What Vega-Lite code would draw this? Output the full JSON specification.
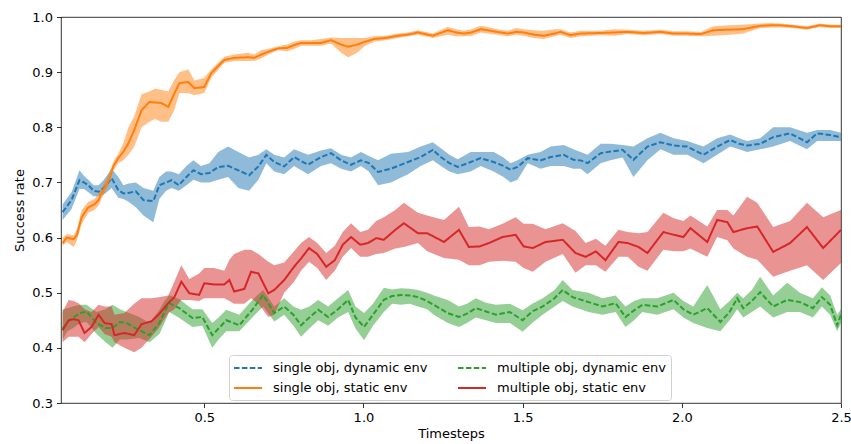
{
  "$schema": "https://vega.github.io/schema/vega-lite/v6.json",
  "width": 780,
  "height": 386,
  "autosize": {"type": "none"},
  "padding": {"left": 61, "top": 17, "right": 10, "bottom": 41},
  "config": {
    "font": "DejaVu Sans",
    "view": {"stroke": "#000", "strokeWidth": 0.8},
    "axis": {"labelFont": "DejaVu Sans", "labelFontSize": 13, "labelColor": "#000", "titleFont": "DejaVu Sans", "titleFontSize": 13, "titleFontWeight": "normal", "titleColor": "#000", "tickColor": "#000", "tickWidth": 0.8, "tickSize": 4.5, "labelPadding": 4, "domain": false, "grid": false},
    "legend": {"orient": "none", "legendX": 168, "legendY": 338, "columns": 2, "symbolType": "M-2,0H2", "symbolSize": 196, "symbolStrokeWidth": 2, "symbolOffset": 6, "labelOffset": 17, "labelFontSize": 13, "labelFont": "DejaVu Sans", "labelColor": "#000", "labelLimit": 400, "fillColor": "#fff", "strokeColor": "#d0d0d0", "padding": 5, "cornerRadius": 3, "rowPadding": 5, "columnPadding": 26}
  },
  "data": {"values": [
    {"s": "single obj, dynamic env", "t": 0.055, "m": 0.646, "lo": 0.632, "hi": 0.66},
    {"s": "single obj, dynamic env", "t": 0.083, "m": 0.668, "lo": 0.652, "hi": 0.682},
    {"s": "single obj, dynamic env", "t": 0.108, "m": 0.704, "lo": 0.688, "hi": 0.722},
    {"s": "single obj, dynamic env", "t": 0.122, "m": 0.7, "lo": 0.688, "hi": 0.712},
    {"s": "single obj, dynamic env", "t": 0.136, "m": 0.695, "lo": 0.682, "hi": 0.705},
    {"s": "single obj, dynamic env", "t": 0.152, "m": 0.685, "lo": 0.675, "hi": 0.695},
    {"s": "single obj, dynamic env", "t": 0.168, "m": 0.683, "lo": 0.675, "hi": 0.695},
    {"s": "single obj, dynamic env", "t": 0.185, "m": 0.69, "lo": 0.678, "hi": 0.705},
    {"s": "single obj, dynamic env", "t": 0.209, "m": 0.708, "lo": 0.69, "hi": 0.725},
    {"s": "single obj, dynamic env", "t": 0.23, "m": 0.686, "lo": 0.672, "hi": 0.71},
    {"s": "single obj, dynamic env", "t": 0.246, "m": 0.68, "lo": 0.67, "hi": 0.695},
    {"s": "single obj, dynamic env", "t": 0.262, "m": 0.681, "lo": 0.665, "hi": 0.698},
    {"s": "single obj, dynamic env", "t": 0.285, "m": 0.684, "lo": 0.655, "hi": 0.7},
    {"s": "single obj, dynamic env", "t": 0.309, "m": 0.668, "lo": 0.64, "hi": 0.69},
    {"s": "single obj, dynamic env", "t": 0.34, "m": 0.666, "lo": 0.628, "hi": 0.685},
    {"s": "single obj, dynamic env", "t": 0.359, "m": 0.695, "lo": 0.67, "hi": 0.71},
    {"s": "single obj, dynamic env", "t": 0.38, "m": 0.7, "lo": 0.685, "hi": 0.72},
    {"s": "single obj, dynamic env", "t": 0.397, "m": 0.704, "lo": 0.69, "hi": 0.72},
    {"s": "single obj, dynamic env", "t": 0.42, "m": 0.695, "lo": 0.685, "hi": 0.715},
    {"s": "single obj, dynamic env", "t": 0.444, "m": 0.71, "lo": 0.695, "hi": 0.73},
    {"s": "single obj, dynamic env", "t": 0.466, "m": 0.722, "lo": 0.705, "hi": 0.74},
    {"s": "single obj, dynamic env", "t": 0.49, "m": 0.715, "lo": 0.7, "hi": 0.73},
    {"s": "single obj, dynamic env", "t": 0.516, "m": 0.717, "lo": 0.7, "hi": 0.735},
    {"s": "single obj, dynamic env", "t": 0.544, "m": 0.728, "lo": 0.705, "hi": 0.755},
    {"s": "single obj, dynamic env", "t": 0.575, "m": 0.73, "lo": 0.71, "hi": 0.765},
    {"s": "single obj, dynamic env", "t": 0.607, "m": 0.722, "lo": 0.69, "hi": 0.755},
    {"s": "single obj, dynamic env", "t": 0.641, "m": 0.713, "lo": 0.685, "hi": 0.745},
    {"s": "single obj, dynamic env", "t": 0.67, "m": 0.729, "lo": 0.705, "hi": 0.75},
    {"s": "single obj, dynamic env", "t": 0.695, "m": 0.75, "lo": 0.735, "hi": 0.76},
    {"s": "single obj, dynamic env", "t": 0.72, "m": 0.737, "lo": 0.72, "hi": 0.75},
    {"s": "single obj, dynamic env", "t": 0.751, "m": 0.729, "lo": 0.715, "hi": 0.745},
    {"s": "single obj, dynamic env", "t": 0.782, "m": 0.746, "lo": 0.73, "hi": 0.76},
    {"s": "single obj, dynamic env", "t": 0.826, "m": 0.732, "lo": 0.715, "hi": 0.75},
    {"s": "single obj, dynamic env", "t": 0.867, "m": 0.746, "lo": 0.73, "hi": 0.758},
    {"s": "single obj, dynamic env", "t": 0.898, "m": 0.753, "lo": 0.735, "hi": 0.762},
    {"s": "single obj, dynamic env", "t": 0.93, "m": 0.74, "lo": 0.725, "hi": 0.75},
    {"s": "single obj, dynamic env", "t": 0.961, "m": 0.732, "lo": 0.72, "hi": 0.745},
    {"s": "single obj, dynamic env", "t": 0.992, "m": 0.74, "lo": 0.73, "hi": 0.755},
    {"s": "single obj, dynamic env", "t": 1.017, "m": 0.735, "lo": 0.72, "hi": 0.748},
    {"s": "single obj, dynamic env", "t": 1.046, "m": 0.719, "lo": 0.695, "hi": 0.74},
    {"s": "single obj, dynamic env", "t": 1.086, "m": 0.725, "lo": 0.7, "hi": 0.752},
    {"s": "single obj, dynamic env", "t": 1.14, "m": 0.737, "lo": 0.715, "hi": 0.755},
    {"s": "single obj, dynamic env", "t": 1.18, "m": 0.746, "lo": 0.73, "hi": 0.765},
    {"s": "single obj, dynamic env", "t": 1.218, "m": 0.759, "lo": 0.74, "hi": 0.773},
    {"s": "single obj, dynamic env", "t": 1.243, "m": 0.746, "lo": 0.73, "hi": 0.762},
    {"s": "single obj, dynamic env", "t": 1.27, "m": 0.735, "lo": 0.72, "hi": 0.75},
    {"s": "single obj, dynamic env", "t": 1.296, "m": 0.728, "lo": 0.715, "hi": 0.742},
    {"s": "single obj, dynamic env", "t": 1.337, "m": 0.737, "lo": 0.72, "hi": 0.755},
    {"s": "single obj, dynamic env", "t": 1.368, "m": 0.744, "lo": 0.73, "hi": 0.755},
    {"s": "single obj, dynamic env", "t": 1.409, "m": 0.737, "lo": 0.72, "hi": 0.755},
    {"s": "single obj, dynamic env", "t": 1.44, "m": 0.73, "lo": 0.71, "hi": 0.745},
    {"s": "single obj, dynamic env", "t": 1.462, "m": 0.723, "lo": 0.7, "hi": 0.735},
    {"s": "single obj, dynamic env", "t": 1.484, "m": 0.728, "lo": 0.705, "hi": 0.74},
    {"s": "single obj, dynamic env", "t": 1.516, "m": 0.744, "lo": 0.735, "hi": 0.75},
    {"s": "single obj, dynamic env", "t": 1.556, "m": 0.74, "lo": 0.725, "hi": 0.755},
    {"s": "single obj, dynamic env", "t": 1.588, "m": 0.746, "lo": 0.73, "hi": 0.765},
    {"s": "single obj, dynamic env", "t": 1.629, "m": 0.75, "lo": 0.73, "hi": 0.768},
    {"s": "single obj, dynamic env", "t": 1.66, "m": 0.741, "lo": 0.725, "hi": 0.76},
    {"s": "single obj, dynamic env", "t": 1.682, "m": 0.74, "lo": 0.725, "hi": 0.755},
    {"s": "single obj, dynamic env", "t": 1.704, "m": 0.735, "lo": 0.715, "hi": 0.75},
    {"s": "single obj, dynamic env", "t": 1.745, "m": 0.753, "lo": 0.735, "hi": 0.77},
    {"s": "single obj, dynamic env", "t": 1.776, "m": 0.756, "lo": 0.74, "hi": 0.77},
    {"s": "single obj, dynamic env", "t": 1.814, "m": 0.759, "lo": 0.745, "hi": 0.768},
    {"s": "single obj, dynamic env", "t": 1.848, "m": 0.741, "lo": 0.71, "hi": 0.765},
    {"s": "single obj, dynamic env", "t": 1.892, "m": 0.765, "lo": 0.74, "hi": 0.78},
    {"s": "single obj, dynamic env", "t": 1.933, "m": 0.773, "lo": 0.76, "hi": 0.79},
    {"s": "single obj, dynamic env", "t": 1.974, "m": 0.767, "lo": 0.75, "hi": 0.78},
    {"s": "single obj, dynamic env", "t": 2.017, "m": 0.765, "lo": 0.75, "hi": 0.775},
    {"s": "single obj, dynamic env", "t": 2.068, "m": 0.75, "lo": 0.735, "hi": 0.765},
    {"s": "single obj, dynamic env", "t": 2.111, "m": 0.765, "lo": 0.75, "hi": 0.78},
    {"s": "single obj, dynamic env", "t": 2.152, "m": 0.777, "lo": 0.765, "hi": 0.787},
    {"s": "single obj, dynamic env", "t": 2.18, "m": 0.77, "lo": 0.76, "hi": 0.78},
    {"s": "single obj, dynamic env", "t": 2.205, "m": 0.767, "lo": 0.755, "hi": 0.775},
    {"s": "single obj, dynamic env", "t": 2.246, "m": 0.77, "lo": 0.76, "hi": 0.78},
    {"s": "single obj, dynamic env", "t": 2.287, "m": 0.782, "lo": 0.765, "hi": 0.8},
    {"s": "single obj, dynamic env", "t": 2.34, "m": 0.789, "lo": 0.775, "hi": 0.8},
    {"s": "single obj, dynamic env", "t": 2.393, "m": 0.773, "lo": 0.76, "hi": 0.79},
    {"s": "single obj, dynamic env", "t": 2.425, "m": 0.789, "lo": 0.775, "hi": 0.795},
    {"s": "single obj, dynamic env", "t": 2.466, "m": 0.786, "lo": 0.775, "hi": 0.795},
    {"s": "single obj, dynamic env", "t": 2.5, "m": 0.782, "lo": 0.775, "hi": 0.79},

    {"s": "single obj, static env", "t": 0.055, "m": 0.59, "lo": 0.585, "hi": 0.6},
    {"s": "single obj, static env", "t": 0.068, "m": 0.6, "lo": 0.592, "hi": 0.606},
    {"s": "single obj, static env", "t": 0.09, "m": 0.597, "lo": 0.583, "hi": 0.604},
    {"s": "single obj, static env", "t": 0.1, "m": 0.605, "lo": 0.595, "hi": 0.615},
    {"s": "single obj, static env", "t": 0.115, "m": 0.637, "lo": 0.625, "hi": 0.65},
    {"s": "single obj, static env", "t": 0.136, "m": 0.655, "lo": 0.645, "hi": 0.665},
    {"s": "single obj, static env", "t": 0.155, "m": 0.66, "lo": 0.65, "hi": 0.67},
    {"s": "single obj, static env", "t": 0.168, "m": 0.668, "lo": 0.658, "hi": 0.68},
    {"s": "single obj, static env", "t": 0.177, "m": 0.68, "lo": 0.67, "hi": 0.69},
    {"s": "single obj, static env", "t": 0.2, "m": 0.704, "lo": 0.695, "hi": 0.715},
    {"s": "single obj, static env", "t": 0.215, "m": 0.73, "lo": 0.722, "hi": 0.738},
    {"s": "single obj, static env", "t": 0.23, "m": 0.744, "lo": 0.735, "hi": 0.752},
    {"s": "single obj, static env", "t": 0.245, "m": 0.755, "lo": 0.74, "hi": 0.77},
    {"s": "single obj, static env", "t": 0.262, "m": 0.771, "lo": 0.75, "hi": 0.8},
    {"s": "single obj, static env", "t": 0.28, "m": 0.795, "lo": 0.765, "hi": 0.82},
    {"s": "single obj, static env", "t": 0.303, "m": 0.831, "lo": 0.8, "hi": 0.86},
    {"s": "single obj, static env", "t": 0.328, "m": 0.846, "lo": 0.81, "hi": 0.865},
    {"s": "single obj, static env", "t": 0.345, "m": 0.845, "lo": 0.815, "hi": 0.87},
    {"s": "single obj, static env", "t": 0.365, "m": 0.844, "lo": 0.81, "hi": 0.868},
    {"s": "single obj, static env", "t": 0.387, "m": 0.837, "lo": 0.81, "hi": 0.865},
    {"s": "single obj, static env", "t": 0.405, "m": 0.86, "lo": 0.83, "hi": 0.885},
    {"s": "single obj, static env", "t": 0.422, "m": 0.88, "lo": 0.862, "hi": 0.9},
    {"s": "single obj, static env", "t": 0.45, "m": 0.882, "lo": 0.862, "hi": 0.905},
    {"s": "single obj, static env", "t": 0.469, "m": 0.871, "lo": 0.858, "hi": 0.885},
    {"s": "single obj, static env", "t": 0.5, "m": 0.873, "lo": 0.862, "hi": 0.89},
    {"s": "single obj, static env", "t": 0.522, "m": 0.898, "lo": 0.89, "hi": 0.905},
    {"s": "single obj, static env", "t": 0.545, "m": 0.912, "lo": 0.905, "hi": 0.918},
    {"s": "single obj, static env", "t": 0.563, "m": 0.922, "lo": 0.917, "hi": 0.928},
    {"s": "single obj, static env", "t": 0.594, "m": 0.926, "lo": 0.92, "hi": 0.932},
    {"s": "single obj, static env", "t": 0.638, "m": 0.927, "lo": 0.92, "hi": 0.935},
    {"s": "single obj, static env", "t": 0.657, "m": 0.926, "lo": 0.92, "hi": 0.932},
    {"s": "single obj, static env", "t": 0.68, "m": 0.932, "lo": 0.925, "hi": 0.94},
    {"s": "single obj, static env", "t": 0.701, "m": 0.937, "lo": 0.932, "hi": 0.942},
    {"s": "single obj, static env", "t": 0.732, "m": 0.943, "lo": 0.94, "hi": 0.947},
    {"s": "single obj, static env", "t": 0.76, "m": 0.944, "lo": 0.938, "hi": 0.95},
    {"s": "single obj, static env", "t": 0.782, "m": 0.949, "lo": 0.942, "hi": 0.955},
    {"s": "single obj, static env", "t": 0.804, "m": 0.953, "lo": 0.948, "hi": 0.958},
    {"s": "single obj, static env", "t": 0.835, "m": 0.953, "lo": 0.948, "hi": 0.958},
    {"s": "single obj, static env", "t": 0.867, "m": 0.953, "lo": 0.948, "hi": 0.96},
    {"s": "single obj, static env", "t": 0.898, "m": 0.958, "lo": 0.952, "hi": 0.963},
    {"s": "single obj, static env", "t": 0.93, "m": 0.95, "lo": 0.935, "hi": 0.962},
    {"s": "single obj, static env", "t": 0.952, "m": 0.946, "lo": 0.927, "hi": 0.962},
    {"s": "single obj, static env", "t": 0.98, "m": 0.95, "lo": 0.935, "hi": 0.962},
    {"s": "single obj, static env", "t": 1.005, "m": 0.955, "lo": 0.948, "hi": 0.962},
    {"s": "single obj, static env", "t": 1.033, "m": 0.96, "lo": 0.955, "hi": 0.965},
    {"s": "single obj, static env", "t": 1.07, "m": 0.962, "lo": 0.958, "hi": 0.966},
    {"s": "single obj, static env", "t": 1.108, "m": 0.966, "lo": 0.962, "hi": 0.97},
    {"s": "single obj, static env", "t": 1.14, "m": 0.968, "lo": 0.965, "hi": 0.972},
    {"s": "single obj, static env", "t": 1.171, "m": 0.972, "lo": 0.968, "hi": 0.976},
    {"s": "single obj, static env", "t": 1.218, "m": 0.966, "lo": 0.962, "hi": 0.97},
    {"s": "single obj, static env", "t": 1.265, "m": 0.976, "lo": 0.968, "hi": 0.982},
    {"s": "single obj, static env", "t": 1.29, "m": 0.972, "lo": 0.965, "hi": 0.978},
    {"s": "single obj, static env", "t": 1.315, "m": 0.97, "lo": 0.965, "hi": 0.975},
    {"s": "single obj, static env", "t": 1.34, "m": 0.972, "lo": 0.966, "hi": 0.978},
    {"s": "single obj, static env", "t": 1.368, "m": 0.978, "lo": 0.972, "hi": 0.984},
    {"s": "single obj, static env", "t": 1.39, "m": 0.976, "lo": 0.97, "hi": 0.982},
    {"s": "single obj, static env", "t": 1.42, "m": 0.973, "lo": 0.968, "hi": 0.978},
    {"s": "single obj, static env", "t": 1.453, "m": 0.97, "lo": 0.965, "hi": 0.975},
    {"s": "single obj, static env", "t": 1.48, "m": 0.973, "lo": 0.968, "hi": 0.98},
    {"s": "single obj, static env", "t": 1.503, "m": 0.972, "lo": 0.966, "hi": 0.978},
    {"s": "single obj, static env", "t": 1.535, "m": 0.968, "lo": 0.962, "hi": 0.976},
    {"s": "single obj, static env", "t": 1.566, "m": 0.966, "lo": 0.96, "hi": 0.975},
    {"s": "single obj, static env", "t": 1.6, "m": 0.97, "lo": 0.965, "hi": 0.978},
    {"s": "single obj, static env", "t": 1.619, "m": 0.973, "lo": 0.968, "hi": 0.978},
    {"s": "single obj, static env", "t": 1.65, "m": 0.967, "lo": 0.962, "hi": 0.972},
    {"s": "single obj, static env", "t": 1.682, "m": 0.97, "lo": 0.965, "hi": 0.975},
    {"s": "single obj, static env", "t": 1.745, "m": 0.971, "lo": 0.967, "hi": 0.975},
    {"s": "single obj, static env", "t": 1.79, "m": 0.972, "lo": 0.966, "hi": 0.978},
    {"s": "single obj, static env", "t": 1.829, "m": 0.973, "lo": 0.969, "hi": 0.977},
    {"s": "single obj, static env", "t": 1.88, "m": 0.971, "lo": 0.967, "hi": 0.975},
    {"s": "single obj, static env", "t": 1.933, "m": 0.973, "lo": 0.969, "hi": 0.977},
    {"s": "single obj, static env", "t": 1.975, "m": 0.97, "lo": 0.966, "hi": 0.974},
    {"s": "single obj, static env", "t": 2.017, "m": 0.97, "lo": 0.966, "hi": 0.974},
    {"s": "single obj, static env", "t": 2.06, "m": 0.969, "lo": 0.965, "hi": 0.973},
    {"s": "single obj, static env", "t": 2.099, "m": 0.976, "lo": 0.966, "hi": 0.983},
    {"s": "single obj, static env", "t": 2.15, "m": 0.977, "lo": 0.968, "hi": 0.985},
    {"s": "single obj, static env", "t": 2.193, "m": 0.978, "lo": 0.97, "hi": 0.986},
    {"s": "single obj, static env", "t": 2.246, "m": 0.984, "lo": 0.98, "hi": 0.988},
    {"s": "single obj, static env", "t": 2.28, "m": 0.985, "lo": 0.981, "hi": 0.989},
    {"s": "single obj, static env", "t": 2.309, "m": 0.985, "lo": 0.981, "hi": 0.988},
    {"s": "single obj, static env", "t": 2.35, "m": 0.983, "lo": 0.98, "hi": 0.986},
    {"s": "single obj, static env", "t": 2.393, "m": 0.98, "lo": 0.977, "hi": 0.983},
    {"s": "single obj, static env", "t": 2.434, "m": 0.985, "lo": 0.982, "hi": 0.988},
    {"s": "single obj, static env", "t": 2.47, "m": 0.983, "lo": 0.98, "hi": 0.986},
    {"s": "single obj, static env", "t": 2.5, "m": 0.983, "lo": 0.98, "hi": 0.986},

    {"s": "multiple obj, dynamic env", "t": 0.055, "m": 0.435, "lo": 0.415, "hi": 0.47},
    {"s": "multiple obj, dynamic env", "t": 0.07, "m": 0.447, "lo": 0.43, "hi": 0.472},
    {"s": "multiple obj, dynamic env", "t": 0.086, "m": 0.454, "lo": 0.435, "hi": 0.475},
    {"s": "multiple obj, dynamic env", "t": 0.11, "m": 0.463, "lo": 0.445, "hi": 0.478},
    {"s": "multiple obj, dynamic env", "t": 0.13, "m": 0.466, "lo": 0.447, "hi": 0.478},
    {"s": "multiple obj, dynamic env", "t": 0.162, "m": 0.445, "lo": 0.425, "hi": 0.465},
    {"s": "multiple obj, dynamic env", "t": 0.19, "m": 0.436, "lo": 0.41, "hi": 0.47},
    {"s": "multiple obj, dynamic env", "t": 0.212, "m": 0.436, "lo": 0.4, "hi": 0.478},
    {"s": "multiple obj, dynamic env", "t": 0.235, "m": 0.447, "lo": 0.415, "hi": 0.47},
    {"s": "multiple obj, dynamic env", "t": 0.256, "m": 0.445, "lo": 0.415, "hi": 0.465},
    {"s": "multiple obj, dynamic env", "t": 0.296, "m": 0.432, "lo": 0.418, "hi": 0.456},
    {"s": "multiple obj, dynamic env", "t": 0.328, "m": 0.423, "lo": 0.41, "hi": 0.445},
    {"s": "multiple obj, dynamic env", "t": 0.359, "m": 0.445, "lo": 0.425, "hi": 0.469},
    {"s": "multiple obj, dynamic env", "t": 0.375, "m": 0.465, "lo": 0.445, "hi": 0.485},
    {"s": "multiple obj, dynamic env", "t": 0.39, "m": 0.481, "lo": 0.465, "hi": 0.496},
    {"s": "multiple obj, dynamic env", "t": 0.422, "m": 0.472, "lo": 0.454, "hi": 0.488},
    {"s": "multiple obj, dynamic env", "t": 0.463, "m": 0.454, "lo": 0.438, "hi": 0.47},
    {"s": "multiple obj, dynamic env", "t": 0.494, "m": 0.456, "lo": 0.44, "hi": 0.47},
    {"s": "multiple obj, dynamic env", "t": 0.525, "m": 0.423, "lo": 0.4, "hi": 0.445},
    {"s": "multiple obj, dynamic env", "t": 0.545, "m": 0.435, "lo": 0.415, "hi": 0.455},
    {"s": "multiple obj, dynamic env", "t": 0.569, "m": 0.45, "lo": 0.43, "hi": 0.469},
    {"s": "multiple obj, dynamic env", "t": 0.61, "m": 0.441, "lo": 0.43, "hi": 0.46},
    {"s": "multiple obj, dynamic env", "t": 0.651, "m": 0.469, "lo": 0.455, "hi": 0.487},
    {"s": "multiple obj, dynamic env", "t": 0.685, "m": 0.496, "lo": 0.475, "hi": 0.505},
    {"s": "multiple obj, dynamic env", "t": 0.72, "m": 0.463, "lo": 0.448, "hi": 0.475},
    {"s": "multiple obj, dynamic env", "t": 0.751, "m": 0.475, "lo": 0.46, "hi": 0.49},
    {"s": "multiple obj, dynamic env", "t": 0.78, "m": 0.46, "lo": 0.44, "hi": 0.475},
    {"s": "multiple obj, dynamic env", "t": 0.804, "m": 0.441, "lo": 0.42, "hi": 0.469},
    {"s": "multiple obj, dynamic env", "t": 0.83, "m": 0.455, "lo": 0.435, "hi": 0.475},
    {"s": "multiple obj, dynamic env", "t": 0.858, "m": 0.469, "lo": 0.45, "hi": 0.487},
    {"s": "multiple obj, dynamic env", "t": 0.889, "m": 0.456, "lo": 0.44, "hi": 0.475},
    {"s": "multiple obj, dynamic env", "t": 0.92, "m": 0.47, "lo": 0.455, "hi": 0.49},
    {"s": "multiple obj, dynamic env", "t": 0.952, "m": 0.487, "lo": 0.465, "hi": 0.505},
    {"s": "multiple obj, dynamic env", "t": 0.975, "m": 0.455, "lo": 0.435, "hi": 0.475},
    {"s": "multiple obj, dynamic env", "t": 1.002, "m": 0.438, "lo": 0.414, "hi": 0.463},
    {"s": "multiple obj, dynamic env", "t": 1.03, "m": 0.46, "lo": 0.44, "hi": 0.48},
    {"s": "multiple obj, dynamic env", "t": 1.064, "m": 0.487, "lo": 0.465, "hi": 0.509},
    {"s": "multiple obj, dynamic env", "t": 1.09, "m": 0.494, "lo": 0.48, "hi": 0.506},
    {"s": "multiple obj, dynamic env", "t": 1.118, "m": 0.496, "lo": 0.478, "hi": 0.508},
    {"s": "multiple obj, dynamic env", "t": 1.145, "m": 0.495, "lo": 0.48, "hi": 0.507},
    {"s": "multiple obj, dynamic env", "t": 1.171, "m": 0.492, "lo": 0.475, "hi": 0.505},
    {"s": "multiple obj, dynamic env", "t": 1.2, "m": 0.485, "lo": 0.47, "hi": 0.5},
    {"s": "multiple obj, dynamic env", "t": 1.221, "m": 0.478, "lo": 0.46, "hi": 0.495},
    {"s": "multiple obj, dynamic env", "t": 1.265, "m": 0.463, "lo": 0.445, "hi": 0.487},
    {"s": "multiple obj, dynamic env", "t": 1.3, "m": 0.456, "lo": 0.438, "hi": 0.475},
    {"s": "multiple obj, dynamic env", "t": 1.325, "m": 0.462, "lo": 0.445, "hi": 0.48},
    {"s": "multiple obj, dynamic env", "t": 1.353, "m": 0.472, "lo": 0.455, "hi": 0.49},
    {"s": "multiple obj, dynamic env", "t": 1.385, "m": 0.466, "lo": 0.45, "hi": 0.482},
    {"s": "multiple obj, dynamic env", "t": 1.416, "m": 0.46, "lo": 0.445, "hi": 0.478},
    {"s": "multiple obj, dynamic env", "t": 1.46, "m": 0.465, "lo": 0.445, "hi": 0.48},
    {"s": "multiple obj, dynamic env", "t": 1.5, "m": 0.45, "lo": 0.429, "hi": 0.468},
    {"s": "multiple obj, dynamic env", "t": 1.53, "m": 0.466, "lo": 0.445, "hi": 0.48},
    {"s": "multiple obj, dynamic env", "t": 1.563, "m": 0.475, "lo": 0.46, "hi": 0.49},
    {"s": "multiple obj, dynamic env", "t": 1.6, "m": 0.49, "lo": 0.475, "hi": 0.505},
    {"s": "multiple obj, dynamic env", "t": 1.626, "m": 0.505, "lo": 0.485, "hi": 0.523},
    {"s": "multiple obj, dynamic env", "t": 1.657, "m": 0.492, "lo": 0.475, "hi": 0.505},
    {"s": "multiple obj, dynamic env", "t": 1.707, "m": 0.483, "lo": 0.465, "hi": 0.5},
    {"s": "multiple obj, dynamic env", "t": 1.751, "m": 0.475, "lo": 0.46, "hi": 0.49},
    {"s": "multiple obj, dynamic env", "t": 1.792, "m": 0.481, "lo": 0.465, "hi": 0.495},
    {"s": "multiple obj, dynamic env", "t": 1.823, "m": 0.456, "lo": 0.438, "hi": 0.475},
    {"s": "multiple obj, dynamic env", "t": 1.85, "m": 0.468, "lo": 0.45, "hi": 0.485},
    {"s": "multiple obj, dynamic env", "t": 1.876, "m": 0.478, "lo": 0.465, "hi": 0.49},
    {"s": "multiple obj, dynamic env", "t": 1.923, "m": 0.475, "lo": 0.46, "hi": 0.49},
    {"s": "multiple obj, dynamic env", "t": 1.974, "m": 0.487, "lo": 0.47, "hi": 0.5},
    {"s": "multiple obj, dynamic env", "t": 2.005, "m": 0.47, "lo": 0.455, "hi": 0.485},
    {"s": "multiple obj, dynamic env", "t": 2.036, "m": 0.46, "lo": 0.445, "hi": 0.475},
    {"s": "multiple obj, dynamic env", "t": 2.08, "m": 0.472, "lo": 0.436, "hi": 0.514},
    {"s": "multiple obj, dynamic env", "t": 2.121, "m": 0.447, "lo": 0.43, "hi": 0.47},
    {"s": "multiple obj, dynamic env", "t": 2.15, "m": 0.465, "lo": 0.45, "hi": 0.485},
    {"s": "multiple obj, dynamic env", "t": 2.174, "m": 0.49, "lo": 0.47, "hi": 0.5},
    {"s": "multiple obj, dynamic env", "t": 2.193, "m": 0.472, "lo": 0.455, "hi": 0.49},
    {"s": "multiple obj, dynamic env", "t": 2.22, "m": 0.485, "lo": 0.465, "hi": 0.505},
    {"s": "multiple obj, dynamic env", "t": 2.246, "m": 0.501, "lo": 0.475, "hi": 0.529},
    {"s": "multiple obj, dynamic env", "t": 2.287, "m": 0.475, "lo": 0.455, "hi": 0.495},
    {"s": "multiple obj, dynamic env", "t": 2.331, "m": 0.487, "lo": 0.465, "hi": 0.518},
    {"s": "multiple obj, dynamic env", "t": 2.371, "m": 0.483, "lo": 0.465, "hi": 0.5},
    {"s": "multiple obj, dynamic env", "t": 2.412, "m": 0.472, "lo": 0.455, "hi": 0.49},
    {"s": "multiple obj, dynamic env", "t": 2.44, "m": 0.492, "lo": 0.475, "hi": 0.51},
    {"s": "multiple obj, dynamic env", "t": 2.466, "m": 0.478, "lo": 0.46, "hi": 0.495},
    {"s": "multiple obj, dynamic env", "t": 2.488, "m": 0.441, "lo": 0.43, "hi": 0.46},
    {"s": "multiple obj, dynamic env", "t": 2.5, "m": 0.46, "lo": 0.445, "hi": 0.47},

    {"s": "multiple obj, static env", "t": 0.055, "m": 0.432, "lo": 0.41, "hi": 0.465},
    {"s": "multiple obj, static env", "t": 0.074, "m": 0.45, "lo": 0.42, "hi": 0.487},
    {"s": "multiple obj, static env", "t": 0.09, "m": 0.452, "lo": 0.42, "hi": 0.485},
    {"s": "multiple obj, static env", "t": 0.105, "m": 0.45, "lo": 0.42, "hi": 0.481},
    {"s": "multiple obj, static env", "t": 0.124, "m": 0.427, "lo": 0.41, "hi": 0.47},
    {"s": "multiple obj, static env", "t": 0.146, "m": 0.438, "lo": 0.425, "hi": 0.465},
    {"s": "multiple obj, static env", "t": 0.168, "m": 0.46, "lo": 0.438, "hi": 0.478},
    {"s": "multiple obj, static env", "t": 0.187, "m": 0.445, "lo": 0.425, "hi": 0.475},
    {"s": "multiple obj, static env", "t": 0.209, "m": 0.443, "lo": 0.42, "hi": 0.475},
    {"s": "multiple obj, static env", "t": 0.218, "m": 0.423, "lo": 0.41, "hi": 0.46},
    {"s": "multiple obj, static env", "t": 0.249, "m": 0.427, "lo": 0.4, "hi": 0.463},
    {"s": "multiple obj, static env", "t": 0.28, "m": 0.423, "lo": 0.392, "hi": 0.48},
    {"s": "multiple obj, static env", "t": 0.303, "m": 0.443, "lo": 0.4, "hi": 0.49},
    {"s": "multiple obj, static env", "t": 0.334, "m": 0.448, "lo": 0.42, "hi": 0.49},
    {"s": "multiple obj, static env", "t": 0.356, "m": 0.46, "lo": 0.435, "hi": 0.492},
    {"s": "multiple obj, static env", "t": 0.387, "m": 0.481, "lo": 0.463, "hi": 0.495},
    {"s": "multiple obj, static env", "t": 0.406, "m": 0.492, "lo": 0.47, "hi": 0.52},
    {"s": "multiple obj, static env", "t": 0.428, "m": 0.52, "lo": 0.487, "hi": 0.55},
    {"s": "multiple obj, static env", "t": 0.453, "m": 0.499, "lo": 0.487, "hi": 0.525},
    {"s": "multiple obj, static env", "t": 0.484, "m": 0.496, "lo": 0.485, "hi": 0.535},
    {"s": "multiple obj, static env", "t": 0.5, "m": 0.517, "lo": 0.49, "hi": 0.545},
    {"s": "multiple obj, static env", "t": 0.531, "m": 0.515, "lo": 0.49, "hi": 0.545},
    {"s": "multiple obj, static env", "t": 0.563, "m": 0.515, "lo": 0.49, "hi": 0.54},
    {"s": "multiple obj, static env", "t": 0.579, "m": 0.523, "lo": 0.485, "hi": 0.56},
    {"s": "multiple obj, static env", "t": 0.594, "m": 0.502, "lo": 0.48, "hi": 0.57},
    {"s": "multiple obj, static env", "t": 0.626, "m": 0.507, "lo": 0.48, "hi": 0.578},
    {"s": "multiple obj, static env", "t": 0.647, "m": 0.538, "lo": 0.49, "hi": 0.578},
    {"s": "multiple obj, static env", "t": 0.67, "m": 0.535, "lo": 0.48, "hi": 0.57},
    {"s": "multiple obj, static env", "t": 0.701, "m": 0.499, "lo": 0.456, "hi": 0.556},
    {"s": "multiple obj, static env", "t": 0.72, "m": 0.505, "lo": 0.46, "hi": 0.55},
    {"s": "multiple obj, static env", "t": 0.751, "m": 0.523, "lo": 0.5, "hi": 0.555},
    {"s": "multiple obj, static env", "t": 0.782, "m": 0.547, "lo": 0.52, "hi": 0.575},
    {"s": "multiple obj, static env", "t": 0.804, "m": 0.562, "lo": 0.54, "hi": 0.59},
    {"s": "multiple obj, static env", "t": 0.829, "m": 0.581, "lo": 0.556, "hi": 0.601},
    {"s": "multiple obj, static env", "t": 0.855, "m": 0.57, "lo": 0.545, "hi": 0.59},
    {"s": "multiple obj, static env", "t": 0.883, "m": 0.547, "lo": 0.523, "hi": 0.572},
    {"s": "multiple obj, static env", "t": 0.91, "m": 0.559, "lo": 0.54, "hi": 0.585},
    {"s": "multiple obj, static env", "t": 0.935, "m": 0.587, "lo": 0.565, "hi": 0.61},
    {"s": "multiple obj, static env", "t": 0.961, "m": 0.601, "lo": 0.581, "hi": 0.626},
    {"s": "multiple obj, static env", "t": 0.99, "m": 0.587, "lo": 0.565, "hi": 0.61},
    {"s": "multiple obj, static env", "t": 1.014, "m": 0.59, "lo": 0.565, "hi": 0.614},
    {"s": "multiple obj, static env", "t": 1.04, "m": 0.599, "lo": 0.57, "hi": 0.63},
    {"s": "multiple obj, static env", "t": 1.064, "m": 0.596, "lo": 0.572, "hi": 0.637},
    {"s": "multiple obj, static env", "t": 1.1, "m": 0.614, "lo": 0.58, "hi": 0.65},
    {"s": "multiple obj, static env", "t": 1.127, "m": 0.626, "lo": 0.583, "hi": 0.663},
    {"s": "multiple obj, static env", "t": 1.171, "m": 0.608, "lo": 0.59, "hi": 0.645},
    {"s": "multiple obj, static env", "t": 1.2, "m": 0.608, "lo": 0.575, "hi": 0.64},
    {"s": "multiple obj, static env", "t": 1.253, "m": 0.592, "lo": 0.563, "hi": 0.632},
    {"s": "multiple obj, static env", "t": 1.3, "m": 0.614, "lo": 0.56, "hi": 0.656},
    {"s": "multiple obj, static env", "t": 1.331, "m": 0.583, "lo": 0.55, "hi": 0.619},
    {"s": "multiple obj, static env", "t": 1.365, "m": 0.584, "lo": 0.55, "hi": 0.62},
    {"s": "multiple obj, static env", "t": 1.394, "m": 0.59, "lo": 0.556, "hi": 0.615},
    {"s": "multiple obj, static env", "t": 1.437, "m": 0.601, "lo": 0.558, "hi": 0.625},
    {"s": "multiple obj, static env", "t": 1.478, "m": 0.605, "lo": 0.556, "hi": 0.637},
    {"s": "multiple obj, static env", "t": 1.503, "m": 0.584, "lo": 0.545, "hi": 0.625},
    {"s": "multiple obj, static env", "t": 1.532, "m": 0.581, "lo": 0.538, "hi": 0.625},
    {"s": "multiple obj, static env", "t": 1.572, "m": 0.592, "lo": 0.556, "hi": 0.615},
    {"s": "multiple obj, static env", "t": 1.626, "m": 0.596, "lo": 0.57, "hi": 0.626},
    {"s": "multiple obj, static env", "t": 1.666, "m": 0.572, "lo": 0.536, "hi": 0.612},
    {"s": "multiple obj, static env", "t": 1.698, "m": 0.565, "lo": 0.55, "hi": 0.59},
    {"s": "multiple obj, static env", "t": 1.73, "m": 0.575, "lo": 0.55, "hi": 0.598},
    {"s": "multiple obj, static env", "t": 1.76, "m": 0.559, "lo": 0.538, "hi": 0.585},
    {"s": "multiple obj, static env", "t": 1.801, "m": 0.592, "lo": 0.565, "hi": 0.614},
    {"s": "multiple obj, static env", "t": 1.83, "m": 0.59, "lo": 0.565, "hi": 0.61},
    {"s": "multiple obj, static env", "t": 1.864, "m": 0.583, "lo": 0.547, "hi": 0.608},
    {"s": "multiple obj, static env", "t": 1.892, "m": 0.572, "lo": 0.54, "hi": 0.61},
    {"s": "multiple obj, static env", "t": 1.942, "m": 0.61, "lo": 0.578, "hi": 0.645},
    {"s": "multiple obj, static env", "t": 1.975, "m": 0.605, "lo": 0.575, "hi": 0.635},
    {"s": "multiple obj, static env", "t": 2.005, "m": 0.601, "lo": 0.575, "hi": 0.63},
    {"s": "multiple obj, static env", "t": 2.027, "m": 0.617, "lo": 0.58, "hi": 0.64},
    {"s": "multiple obj, static env", "t": 2.08, "m": 0.592, "lo": 0.565, "hi": 0.62},
    {"s": "multiple obj, static env", "t": 2.111, "m": 0.632, "lo": 0.601, "hi": 0.65},
    {"s": "multiple obj, static env", "t": 2.143, "m": 0.628, "lo": 0.595, "hi": 0.65},
    {"s": "multiple obj, static env", "t": 2.162, "m": 0.61, "lo": 0.58, "hi": 0.64},
    {"s": "multiple obj, static env", "t": 2.205, "m": 0.617, "lo": 0.565, "hi": 0.674},
    {"s": "multiple obj, static env", "t": 2.237, "m": 0.62, "lo": 0.56, "hi": 0.663},
    {"s": "multiple obj, static env", "t": 2.287, "m": 0.574, "lo": 0.529, "hi": 0.619},
    {"s": "multiple obj, static env", "t": 2.34, "m": 0.59, "lo": 0.54, "hi": 0.63},
    {"s": "multiple obj, static env", "t": 2.393, "m": 0.619, "lo": 0.55, "hi": 0.663},
    {"s": "multiple obj, static env", "t": 2.444, "m": 0.581, "lo": 0.523, "hi": 0.637},
    {"s": "multiple obj, static env", "t": 2.5, "m": 0.614, "lo": 0.554, "hi": 0.65}
  ]},
  "encoding": {
    "x": {"field": "t", "type": "quantitative", "scale": {"domain": [0.05, 2.5], "nice": false, "zero": false},
      "axis": {"title": "Timesteps", "values": [0.5, 1.0, 1.5, 2.0, 2.5], "format": ".1f", "titlePadding": 3, "labelFlush": false}}
  },
  "layer": [
    {
      "transform": [{"filter": "datum.s === 'single obj, dynamic env'"}],
      "mark": {"type": "area", "color": "#1f77b4", "opacity": 0.5, "clip": true},
      "encoding": {
        "y": {"field": "lo", "type": "quantitative", "scale": {"domain": [0.3, 1.0], "nice": false, "zero": false},
          "axis": {"title": "Success rate", "values": [0.3, 0.4, 0.5, 0.6, 0.7, 0.8, 0.9, 1.0], "format": ".1f", "titlePadding": 5}},
        "y2": {"field": "hi"}
      }
    },
    {
      "transform": [{"filter": "datum.s === 'single obj, static env'"}],
      "mark": {"type": "area", "color": "#ff7f0e", "opacity": 0.5, "clip": true},
      "encoding": {"y": {"field": "lo", "type": "quantitative"}, "y2": {"field": "hi"}}
    },
    {
      "transform": [{"filter": "datum.s === 'multiple obj, dynamic env'"}],
      "mark": {"type": "area", "color": "#2ca02c", "opacity": 0.5, "clip": true},
      "encoding": {"y": {"field": "lo", "type": "quantitative"}, "y2": {"field": "hi"}}
    },
    {
      "transform": [{"filter": "datum.s === 'multiple obj, static env'"}],
      "mark": {"type": "area", "color": "#d62728", "opacity": 0.5, "clip": true},
      "encoding": {"y": {"field": "lo", "type": "quantitative"}, "y2": {"field": "hi"}}
    },
    {
      "mark": {"type": "line", "strokeWidth": 2, "clip": true},
      "encoding": {
        "y": {"field": "m", "type": "quantitative"},
        "color": {"field": "s", "type": "nominal", "title": null,
          "scale": {"domain": ["single obj, dynamic env", "single obj, static env", "multiple obj, dynamic env", "multiple obj, static env"], "range": ["#1f77b4", "#ff7f0e", "#2ca02c", "#d62728"]}},
        "strokeDash": {"field": "s", "type": "nominal", "title": null,
          "scale": {"domain": ["single obj, dynamic env", "single obj, static env", "multiple obj, dynamic env", "multiple obj, static env"], "range": [[5.5, 2.4], [1, 0], [5.5, 2.4], [1, 0]]}}
      }
    },
    {
      "data": {"values": [{"label": "1e6"}]},
      "mark": {"type": "text", "align": "right", "baseline": "top", "dy": 24, "fontSize": 13, "font": "DejaVu Sans", "color": "#000"},
      "encoding": {"x": {"datum": 2.5}, "y": {"datum": 0.3}, "text": {"field": "label"}}
    }
  ]
}
